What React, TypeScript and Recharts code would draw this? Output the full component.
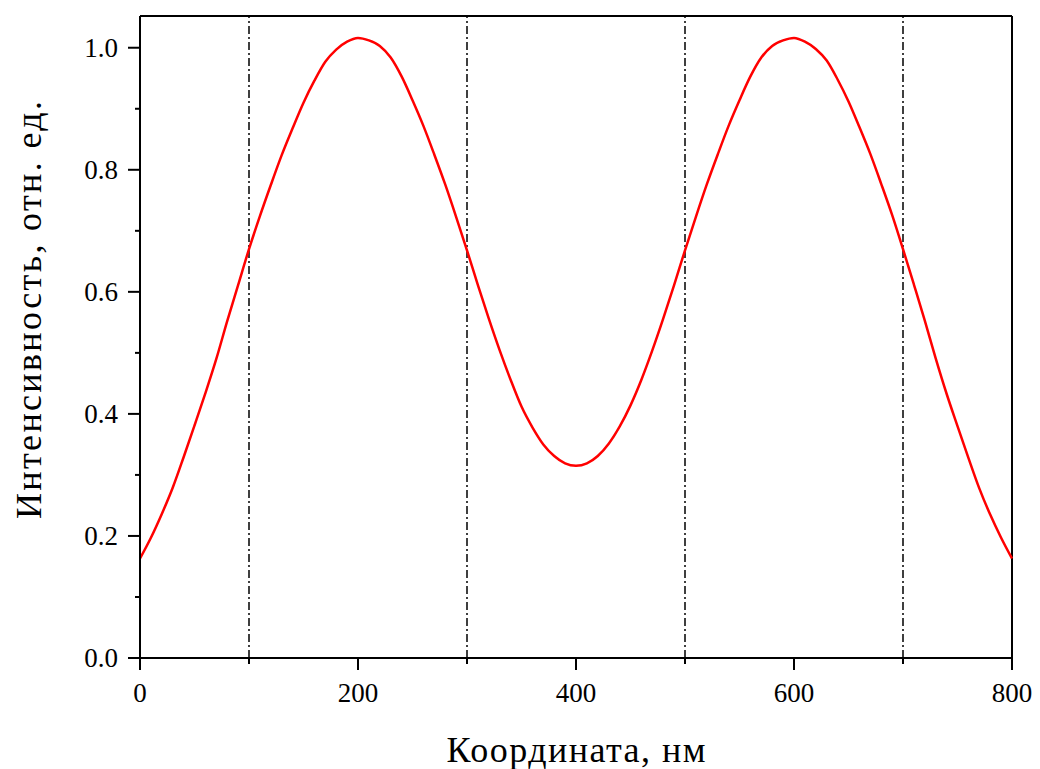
import React from 'react';
import { LineChart, Line, XAxis, YAxis, ReferenceLine } from 'recharts';

// coordinate along the profile, nm
const coord = [
  0, 10, 20, 30, 40, 50, 60, 70, 80, 90,
  100, 110, 120, 130, 140, 150, 160, 170, 180, 190,
  200, 210, 220, 230, 240, 250, 260, 270, 280, 290,
  300, 310, 320, 330, 340, 350, 360, 370, 380, 390,
  400, 410, 420, 430, 440, 450, 460, 470, 480, 490,
  500, 510, 520, 530, 540, 550, 560, 570, 580, 590,
  600, 610, 620, 630, 640, 650, 660, 670, 680, 690,
  700, 710, 720, 730, 740, 750, 760, 770, 780, 790, 800
];

// intensity, rel. units
const intensity = [
  0.163, 0.197, 0.236, 0.279, 0.329, 0.381, 0.434, 0.490, 0.552, 0.611,
  0.670, 0.724, 0.775, 0.824, 0.868, 0.910, 0.946, 0.977, 0.997, 1.010,
  1.016, 1.012, 1.003, 0.984, 0.953, 0.914, 0.872, 0.825, 0.776, 0.723,
  0.668, 0.611, 0.556, 0.504, 0.456, 0.412, 0.378, 0.350, 0.331, 0.319,
  0.315, 0.319, 0.331, 0.351, 0.379, 0.414, 0.456, 0.504, 0.556, 0.611,
  0.668, 0.723, 0.776, 0.825, 0.872, 0.914, 0.953, 0.984, 1.003, 1.012,
  1.016, 1.010, 0.998, 0.979, 0.948, 0.912, 0.870, 0.826, 0.777, 0.726,
  0.670, 0.612, 0.553, 0.491, 0.433, 0.380, 0.328, 0.278, 0.235, 0.197, 0.163
];

const xTicks = [0, 100, 200, 300, 400, 500, 600, 700, 800];
const xMajor = [0, 200, 400, 600, 800];
const yTicks = [0, 0.1, 0.2, 0.3, 0.4, 0.5, 0.6, 0.7, 0.8, 0.9, 1.0];
const markers = [100, 300, 500, 700];

const xTitle = 'Координата, нм';
const yTitle = 'Интенсивность, отн. ед.';

const data = coord.map((c, i) => ({ x: c, y: intensity[i] }));

const FONT = '"Liberation Serif", "DejaVu Serif", serif';
const TICK = 12;
const MARGIN = 6;

const YTick = (props: any) => {
  const { x, y, payload } = props;
  const axisX = x + TICK + MARGIN;
  const major = Math.round(payload.value * 10) % 2 === 0;
  return (
    <g>
      <line x1={axisX - (major ? TICK : 5)} x2={axisX} y1={y} y2={y} stroke="#000" strokeWidth={2} />
      {major && (
        <text x={x - 4} y={y} dy={9} textAnchor="end" fontSize={27} fontFamily={FONT} fill="#000">
          {payload.value.toFixed(1)}
        </text>
      )}
    </g>
  );
};

const XTick = (props: any) => {
  const { x, y, payload } = props;
  const axisY = y - TICK - MARGIN;
  const major = xMajor.includes(payload.value);
  return (
    <g>
      <line x1={x} x2={x} y1={axisY} y2={axisY + (major ? TICK : 6)} stroke="#000" strokeWidth={2} />
      {major && (
        <text x={x} y={y} dy={26} textAnchor="middle" fontSize={27} fontFamily={FONT} fill="#000">
          {payload.value}
        </text>
      )}
    </g>
  );
};

const App: React.FC = () => {
  return (
    <div style={{ position: 'absolute', left: 0, top: 0, background: '#fff' }}>
      <LineChart width={1040} height={769} data={data} margin={{ top: 16, right: 28, left: 40, bottom: 51 }}>
        <XAxis
          dataKey="x"
          type="number"
          domain={[0, 800]}
          ticks={xTicks}
          tickSize={TICK}
          tickMargin={MARGIN}
          tickLine={false}
          tick={<XTick />}
          height={60}
          stroke="#000"
          strokeWidth={2}
          label={{
            content: (p: any) => (
              <text x={p.viewBox.x + p.viewBox.width / 2} y={p.viewBox.y + 104} textAnchor="middle" fontSize={36} textLength={259} lengthAdjust="spacing" fontFamily={FONT} fill="#000">
                {xTitle}
              </text>
            )
          }}
        />
        <YAxis
          type="number"
          domain={[0, 1.052]}
          ticks={yTicks}
          tickSize={TICK}
          tickMargin={MARGIN}
          tickLine={false}
          tick={<YTick />}
          width={100}
          stroke="#000"
          strokeWidth={2}
          label={{
            content: (p: any) => {
              const cx = 41;
              const cy = p.viewBox.y + p.viewBox.height / 2 - 27;
              return (
                <text x={cx} y={cy} transform={`rotate(-90 ${cx} ${cy})`} textAnchor="middle" fontSize={36} textLength={418} lengthAdjust="spacing" fontFamily={FONT} fill="#000">
                  {yTitle}
                </text>
              );
            }
          }}
        />
        <ReferenceLine y={1.052} stroke="#000" strokeWidth={2} />
        <ReferenceLine x={800} stroke="#000" strokeWidth={2} />
        {markers.map(m => (
          <ReferenceLine key={m} x={m} stroke="#000" strokeWidth={1.5} strokeDasharray="8 3 2 3" />
        ))}
        <Line type="monotone" dataKey="y" stroke="#ff0000" strokeWidth={2.5} dot={false} isAnimationActive={false} />
      </LineChart>
    </div>
  );
};

export default App;
